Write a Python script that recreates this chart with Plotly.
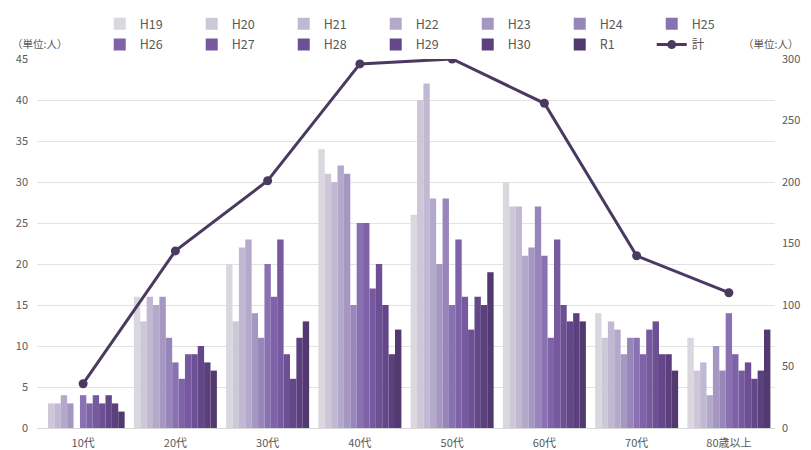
import plotly.graph_objects as go

categories = ["10代", "20代", "30代", "40代", "50代", "60代", "70代", "80歳以上"]
series_names = ["H19", "H20", "H21", "H22", "H23", "H24", "H25",
                "H26", "H27", "H28", "H29", "H30", "R1"]

H19 = [0, 16, 20, 34, 26, 30, 14, 11]
H20 = [3, 13, 13, 31, 40, 27, 11, 7]
H21 = [3, 16, 22, 30, 42, 27, 13, 8]
H22 = [4, 15, 23, 32, 28, 21, 12, 4]
H23 = [3, 16, 14, 31, 20, 22, 9, 10]
H24 = [0, 11, 11, 15, 28, 27, 11, 7]
H25 = [4, 8, 20, 25, 15, 21, 11, 14]
H26 = [3, 6, 16, 25, 23, 11, 9, 9]
H27 = [4, 9, 23, 17, 16, 23, 12, 7]
H28 = [3, 9, 9, 20, 12, 15, 13, 8]
H29 = [4, 10, 6, 15, 16, 13, 9, 6]
H30 = [3, 8, 11, 9, 15, 14, 9, 7]
R1 = [2, 7, 13, 12, 19, 13, 7, 12]
total = [36, 144, 201, 296, 300, 264, 140, 110]

series_values = [H19, H20, H21, H22, H23, H24, H25, H26, H27, H28, H29, H30, R1]
colors = ["#dad7df", "#cdc8d8", "#c1b9d3", "#b3a9ca", "#a597c2", "#9886bb",
          "#8a72b2", "#7f63a8", "#76599f", "#6d5094", "#644789", "#5b407d", "#52396f"]
line_color = "#4a3a62"

fig = go.Figure()
for i, (name, vals, col) in enumerate(zip(series_names, series_values, colors)):
    fig.add_trace(go.Bar(x=categories, y=vals, name=name, marker_color=col,
                         marker_line_width=0,
                         legend="legend" if i < 7 else "legend2"))
fig.add_trace(go.Scatter(x=categories, y=total, name="計", yaxis="y2",
                         mode="lines+markers", legend="legend2",
                         line=dict(color=line_color, width=3),
                         marker=dict(color=line_color, size=9)))

font_family = "Noto Sans CJK JP, Noto Sans, sans-serif"
legend_common = dict(orientation="h", xanchor="left", yanchor="top",
                     entrywidth=47, entrywidthmode="pixels", itemwidth=30,
                     font=dict(size=12.5, color="#595959"), traceorder="normal",
                     bgcolor="rgba(0,0,0,0)")
fig.update_layout(
    width=811, height=450,
    margin=dict(l=37, r=36, t=59, b=22, autoexpand=False),
    paper_bgcolor="white", plot_bgcolor="white",
    font=dict(family=font_family, size=11, color="#595959"),
    barmode="group", bargap=0.1, bargroupgap=0,
    showlegend=True,
    legend=dict(x=0.085, y=1.1355, **legend_common),
    legend2=dict(x=0.085, y=1.0786, **legend_common),
    xaxis=dict(showgrid=False, showline=True, linecolor="#d9d9d9", ticks="",
               ticklabelstandoff=5,
               tickfont=dict(size=11, color="#595959")),
    yaxis=dict(range=[0, 45], dtick=5, showgrid=True, gridcolor="#e3e3e3",
               zeroline=False, ticks="", ticklabelstandoff=8,
               tickfont=dict(size=11, color="#595959")),
    yaxis2=dict(range=[0, 300], dtick=50, overlaying="y", side="right",
                showgrid=False, zeroline=False, ticks="", ticklabelstandoff=6,
                tickfont=dict(size=11, color="#595959")),
    annotations=[
        dict(text="（単位:人）", xref="paper", yref="paper", x=-0.037, y=1.043,
             xanchor="left", yanchor="middle", showarrow=False,
             font=dict(size=10.5, color="#595959")),
        dict(text="（単位:人）", xref="paper", yref="paper", x=1.034, y=1.043,
             xanchor="right", yanchor="middle", showarrow=False,
             font=dict(size=10.5, color="#595959")),
    ],
)

fig.write_html("out.html", config={"displayModeBar": False},
               post_script="document.body.style.margin='0';document.body.style.padding='0';")
